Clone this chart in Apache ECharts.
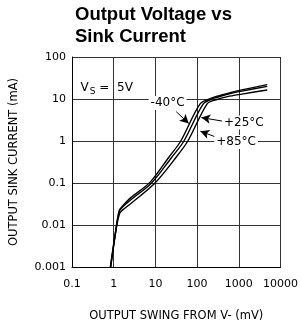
<!DOCTYPE html>
<html>
<head>
<meta charset="utf-8">
<script src="https://cdn.jsdelivr.net/npm/echarts@6/dist/echarts.min.js"></script>
<style>
  html, body { margin: 0; padding: 0; background: #fff; }
  #chart { width: 301px; height: 327px; }
</style>
</head>
<body>
<div id="chart"></div>
<script>
// Courbes : [tension (mV), courant (mA)]
const curveM40 = [[0.83, 0.001], [1.16, 0.0095], [1.36, 0.0223], [1.6, 0.0277], [2.58, 0.0448],
  [7.5, 0.105], [20.6, 0.4], [40.6, 1.0], [118, 7.65], [219, 10.5], [408, 12.7], [697, 14.6],
  [1186, 16.5], [4800, 22]];
const curveP25 = [[0.84, 0.001], [1.17, 0.0095], [1.37, 0.0215], [1.6, 0.0263], [2.58, 0.040],
  [8.1, 0.1], [24.2, 0.4], [48.4, 1.0], [140.6, 7.65], [246, 10.3], [697, 13.9],
  [1186, 15.4], [4800, 20]];
const curveP85 = [[0.85, 0.001], [1.18, 0.0095], [1.39, 0.019], [1.6, 0.0223], [2.58, 0.0325],
  [9.8, 0.1], [30.8, 0.4], [60, 1.0], [174, 7.65], [286, 9.6], [533, 11.4],
  [1186, 13.1], [4800, 16.4]];

const xTickLabels = ["0.1", "1", "10", "100", "1000", "10000"];
const yTickLabels = ["0.001", "0.01", "0.1", "1", "10", "100"];

// Annotations (coordonnées en valeurs du graphique)
const labelsTemp = [
  { text: "-40°C", at: [19.6, 8.07] },
  { text: "+25°C", at: [1318, 2.77] },
  { text: "+85°C", at: [861, 0.95] }
];
const arrowsTemp = [
  [[31.6, 4.99], [63.2, 2.62]],
  [[454, 2.92], [126.5, 3.61]],
  [[330, 1.17], [120, 1.71]]
];
const vsLabelAt = [0.68, 18];

const font = "DejaVu Sans";

function courbe(nom, data) {
  return {
    name: nom,
    type: "line",
    data: data,
    showSymbol: false,
    smooth: 0.3,
    lineStyle: { color: "#000", width: 1.4 },
    silent: true
  };
}

const chart = echarts.init(document.getElementById("chart"));
const option = {
  animation: false,
  backgroundColor: "#fff",
  title: {
    text: "Output Voltage vs\nSink Current",
    left: 75,
    top: 4,
    padding: 0,
    textStyle: { fontFamily: "Liberation Sans", fontSize: 18.5, fontWeight: "bold", lineHeight: 22, color: "#000" }
  },
  grid: { left: 69, right: 16, top: 57, bottom: 55 },
  xAxis: {
    type: "log",
    logBase: 10,
    min: 0.1,
    max: 10000,
    name: "OUTPUT SWING FROM V- (mV)",
    nameLocation: "middle",
    nameGap: 43,
    nameTextStyle: { fontFamily: font, fontSize: 11.5, color: "#000" },
    axisLine: { lineStyle: { color: "#000", width: 1 } },
    axisTick: { show: false },
    axisLabel: {
      fontFamily: font, fontSize: 11, color: "#000", margin: 12,
      formatter: v => xTickLabels[Math.round(Math.log10(v)) + 1]
    },
    splitLine: { show: true, lineStyle: { color: "#333", width: 1 } }
  },
  yAxis: {
    type: "log",
    logBase: 10,
    min: 0.001,
    max: 100,
    name: "OUTPUT SINK CURRENT (mA)",
    nameLocation: "middle",
    nameRotate: 90,
    nameGap: 52,
    nameTextStyle: { fontFamily: font, fontSize: 11.5, color: "#000" },
    axisLine: { lineStyle: { color: "#000", width: 1 } },
    axisTick: { show: false },
    axisLabel: {
      fontFamily: font, fontSize: 11, color: "#000", margin: 6,
      formatter: v => yTickLabels[Math.round(Math.log10(v)) + 3]
    },
    splitLine: { show: true, lineStyle: { color: "#333", width: 1 } }
  },
  series: [
    courbe("-40°C", curveM40),
    courbe("+25°C", curveP25),
    courbe("+85°C", curveP85),
    {
      name: "annotations",
      type: "line",
      data: [],
      silent: true,
      markLine: {
        silent: true,
        animation: false,
        symbol: ["none", "arrow"],
        symbolSize: [7, 9],
        label: { show: false },
        lineStyle: { color: "#000", width: 1, type: "solid" },
        data: arrowsTemp.map(a => [{ coord: a[0] }, { coord: a[1] }])
      },
      markPoint: {
        silent: true,
        symbol: "rect",
        symbolSize: 1,
        itemStyle: { color: "rgba(0,0,0,0)" },
        label: {
          show: true,
          position: "inside",
          fontFamily: font,
          fontSize: 12,
          color: "#000",
          backgroundColor: "#fff",
          padding: [1, 2]
        },
        data: labelsTemp.map(l => ({ coord: l.at, label: { formatter: l.text } })).concat([{
          coord: vsLabelAt,
          label: {
            backgroundColor: "transparent",
            formatter: "{v|V}{s|S}{v| =  5V}",
            rich: {
              v: { fontFamily: font, fontSize: 12, color: "#000" },
              s: { fontFamily: font, fontSize: 9, color: "#000", padding: [7, 0, 0, 1] }
            }
          }
        }])
      }
    }
  ]
};
chart.setOption(option);
</script>
</body>
</html>
